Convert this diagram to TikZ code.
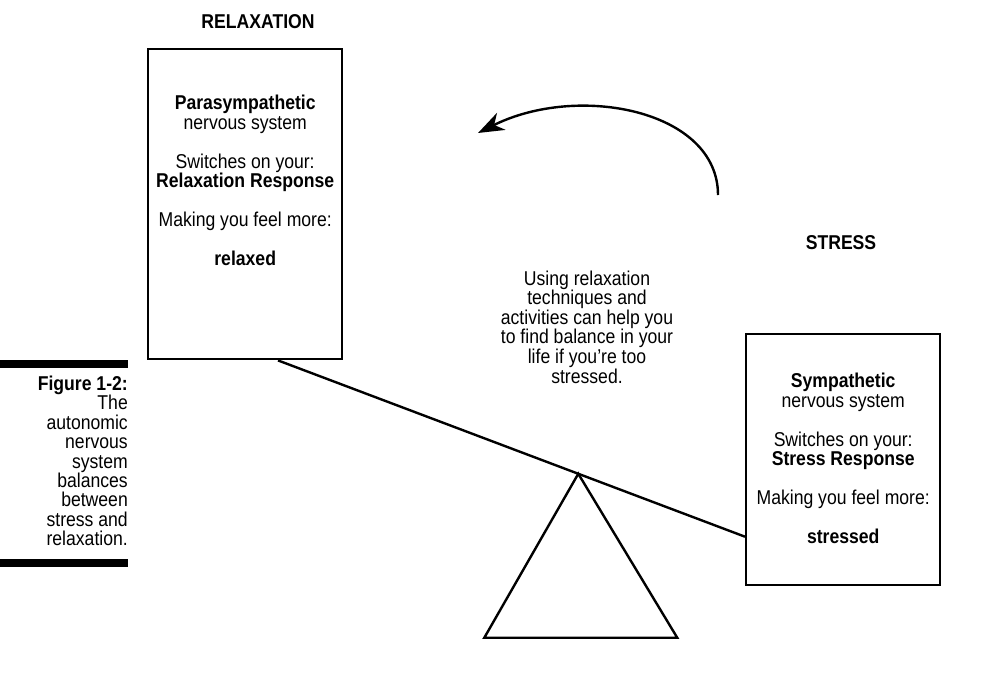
\documentclass[tikz,border=0pt]{standalone}
\usepackage{fontspec}
\setmainfont{Liberation Sans}[FakeStretch=0.88]
\usetikzlibrary{arrows.meta,calc}

\begin{document}
\begin{tikzpicture}[x=1pt,y=-1pt,
    panel/.style={draw,line width=2.4pt,minimum width=194pt,anchor=north west,inner sep=0pt},
    panetext/.style={align=center,anchor=north,inner sep=0pt,font=\fontsize{20}{19.5}\selectfont},
    heading/.style={font=\fontsize{20}{19.5}\selectfont\bfseries},
    note/.style={align=center,font=\fontsize{20}{19.6}\selectfont},
    caption/.style={align=right,anchor=east,inner sep=0pt,font=\fontsize{20}{19.4}\selectfont},
    beam/.style={line width=2.4pt},
    bendarrow/.style={line width=2.4pt,-{Stealth[length=26pt,width=19pt,inset=8pt]}}]
    \useasboundingbox (0,0) rectangle (996,673);

    % the two sides of the balance
    \node[heading] (relaxhead) at (258,22) {RELAXATION};
    \node[panel,minimum height=310pt] (relaxbox) at (147,48) {};
    \node[panetext] (relaxtext) at ($(relaxbox.north)+(0,47)$) {\textbf{Parasympathetic}\\ nervous system\\[19.5pt]
        Switches on your:\\ \textbf{Relaxation Response}\\[19.5pt]
        Making you feel more:\\[19.5pt] \textbf{relaxed}};
    \node[heading] (stresshead) at (841,243) {STRESS};
    \node[panel,minimum height=251pt] (stressbox) at (745,333) {};
    \node[panetext] (stresstext) at ($(stressbox.north)+(0,40)$) {\textbf{Sympathetic}\\ nervous system\\[19.5pt]
        Switches on your:\\ \textbf{Stress Response}\\[19.5pt]
        Making you feel more:\\[19.5pt] \textbf{stressed}};

    \node[note] (advice) at (587,327) {Using relaxation\\ techniques and\\ activities can help you\\
        to find balance in your\\ life if you’re too\\ stressed.};

    % beam and pivot
    \coordinate (beamleft) at ($(relaxbox.south west)+(131,0)$);
    \coordinate (beamright) at ($(stressbox.west)+(0,77)$);
    \coordinate (pivot) at ($(beamleft)!0.643!(beamright)$);
    \draw[beam] (beamleft) -- (beamright);
    \draw[beam,line join=miter] (pivot) -- ++(-94,164) -- ++(193,0) -- cycle;

    \coordinate (arrowstart) at (718,195);
    \coordinate (arrowend) at (478,133);
    \draw[bendarrow] (arrowstart) .. controls +(0,-85) and +(100,-50) .. (arrowend);

    % figure caption
    \fill (0,360) rectangle (128,368);
    \node[caption] (figcap) at (128,461) {\textbf{Figure 1-2:}\\ The\\ autonomic\\ nervous\\ system\\
        balances\\ between\\ stress and\\ relaxation.};
    \fill (0,559) rectangle (128,567);
\end{tikzpicture}
\end{document}
